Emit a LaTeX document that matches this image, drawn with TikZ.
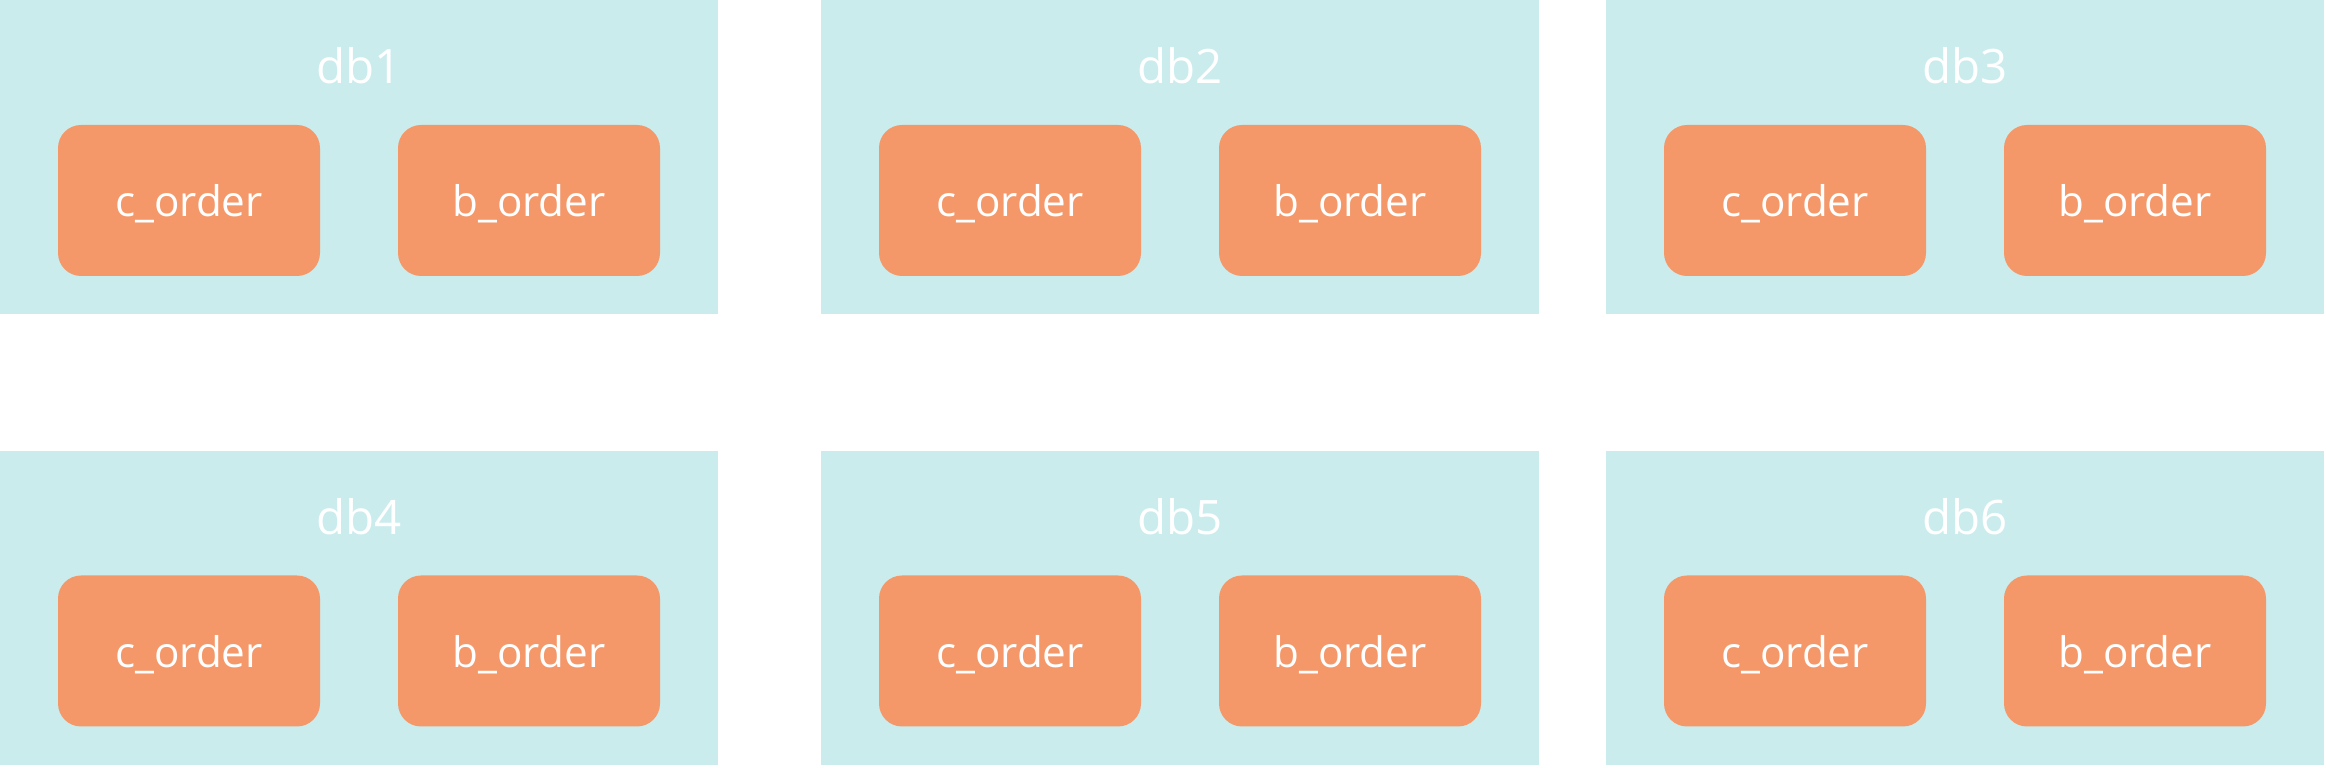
\documentclass[tikz,border=0pt]{standalone}
\usepackage{fontspec}
\setmainfont{Open Sans}
\usetikzlibrary{positioning}
\definecolor{dbcyan}{RGB}{203,236,237}
\definecolor{taborange}{RGB}{244,152,106}
\tikzset{
  dbbox/.style={fill=dbcyan, draw=none, minimum width=7.18cm, minimum height=3.14cm, inner sep=0pt},
  dblabel/.style={text=white, font=\fontsize{13.5}{16}\selectfont, anchor=base, inner sep=0pt},
  tablebox/.style={fill=taborange, draw=none, rounded corners=0.23cm, minimum width=2.62cm, minimum height=1.51cm,
    text=white, font=\fontsize{12}{14}\selectfont, text depth=0pt, inner sep=0pt}
}
\begin{document}
\begin{tikzpicture}
\useasboundingbox (0,0) rectangle (23.26,7.68);

% top row
\node[dbbox] (db1) at (3.59,6.105) {};
\node[dbbox] (db2) at (11.80,6.105) {};
\node[dbbox] (db3) at (19.65,6.105) {};

% bottom row
\node[dbbox] (db4) at (3.59,1.60) {};
\node[dbbox] (db5) at (11.80,1.60) {};
\node[dbbox] (db6) at (19.65,1.60) {};

\node[dblabel] (db1name) at ([yshift=-0.84cm]db1.north) {db1};
\node[dblabel] (db2name) at ([yshift=-0.84cm]db2.north) {db2};
\node[dblabel] (db3name) at ([yshift=-0.84cm]db3.north) {db3};
\node[dblabel] (db4name) at ([yshift=-0.84cm]db4.north) {db4};
\node[dblabel] (db5name) at ([yshift=-0.84cm]db5.north) {db5};
\node[dblabel] (db6name) at ([yshift=-0.84cm]db6.north) {db6};

\node[tablebox, xshift=-1.70cm, yshift=-0.43cm] (c1) at (db1) {c\_order};
\node[tablebox, xshift=1.70cm, yshift=-0.43cm] (b1) at (db1) {b\_order};
\node[tablebox, xshift=-1.70cm, yshift=-0.43cm] (c2) at (db2) {c\_order};
\node[tablebox, xshift=1.70cm, yshift=-0.43cm] (b2) at (db2) {b\_order};
\node[tablebox, xshift=-1.70cm, yshift=-0.43cm] (c3) at (db3) {c\_order};
\node[tablebox, xshift=1.70cm, yshift=-0.43cm] (b3) at (db3) {b\_order};
\node[tablebox, xshift=-1.70cm, yshift=-0.43cm] (c4) at (db4) {c\_order};
\node[tablebox, xshift=1.70cm, yshift=-0.43cm] (b4) at (db4) {b\_order};
\node[tablebox, xshift=-1.70cm, yshift=-0.43cm] (c5) at (db5) {c\_order};
\node[tablebox, xshift=1.70cm, yshift=-0.43cm] (b5) at (db5) {b\_order};
\node[tablebox, xshift=-1.70cm, yshift=-0.43cm] (c6) at (db6) {c\_order};
\node[tablebox, xshift=1.70cm, yshift=-0.43cm] (b6) at (db6) {b\_order};
\end{tikzpicture}
\end{document}
